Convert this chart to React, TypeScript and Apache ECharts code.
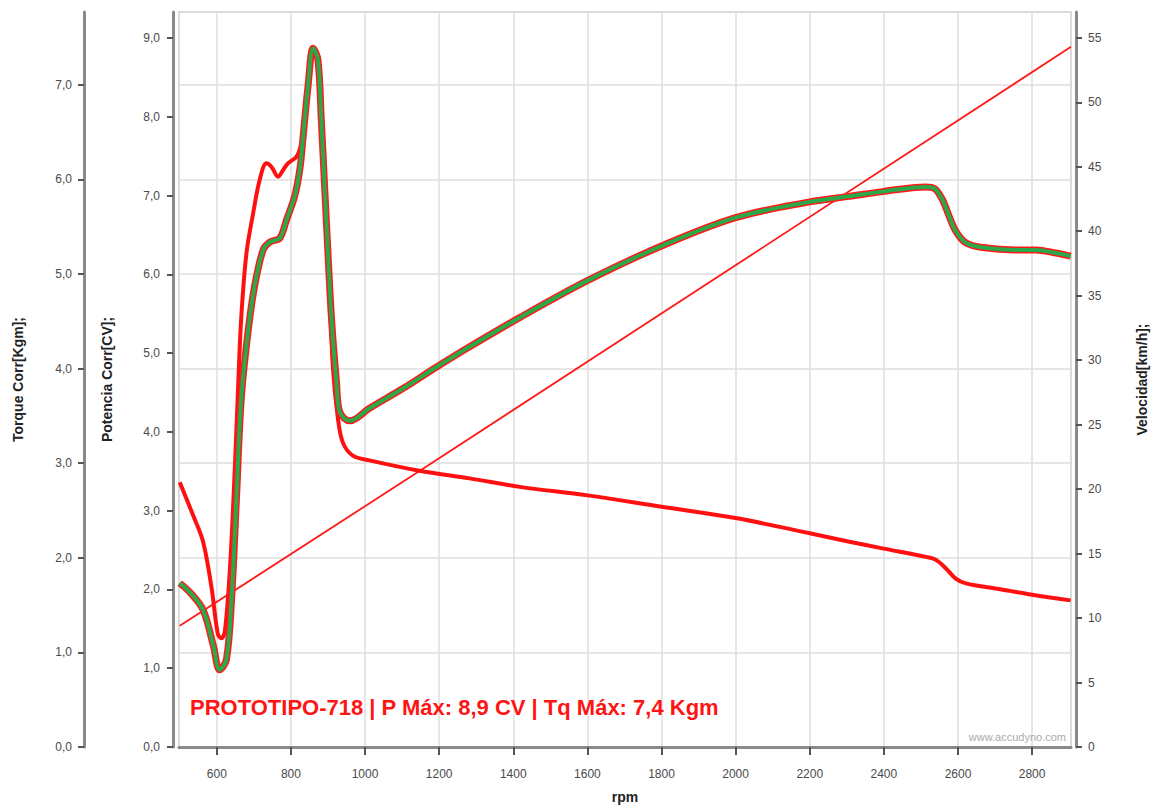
import React, { useEffect, useRef } from "react";
import * as echarts from "echarts";

// ---- data ----
const rpmTicks = [600, 800, 1000, 1200, 1400, 1600, 1800, 2000, 2200, 2400, 2600, 2800];
const torqueTicks = [0, 1, 2, 3, 4, 5, 6, 7];
const potenciaTicks = [0, 1, 2, 3, 4, 5, 6, 7, 8, 9];
const velocidadTicks = [0, 5, 10, 15, 20, 25, 30, 35, 40, 45, 50, 55];

const powerRpm = [500, 530, 563, 590, 608, 626, 640, 653, 666, 684, 702, 725, 743, 770, 788, 810, 824, 833, 846, 860, 873, 882, 891, 900, 910, 923, 932, 959, 1012, 1102, 1192, 1282, 1417, 1600, 1800, 2000, 2200, 2307, 2396, 2513, 2536, 2558, 2576, 2594, 2621, 2666, 2756, 2810, 2864, 2904];
const powerCV = [2.08, 1.95, 1.74, 1.30, 0.98, 1.11, 1.89, 3.15, 4.42, 5.26, 5.85, 6.31, 6.41, 6.46, 6.69, 6.99, 7.33, 7.75, 8.38, 8.87, 8.72, 7.96, 7.11, 6.27, 5.40, 4.63, 4.25, 4.14, 4.30, 4.55, 4.82, 5.08, 5.45, 5.92, 6.36, 6.72, 6.92, 6.99, 7.05, 7.11, 7.09, 6.95, 6.74, 6.55, 6.40, 6.34, 6.31, 6.31, 6.27, 6.23];

const torqueRpm = [500, 536, 563, 586, 603, 613, 622, 636, 649, 658, 666, 680, 698, 716, 734, 748, 765, 779, 792, 815, 824, 833, 846, 860, 873, 882, 891, 900, 906, 913, 926, 940, 967, 1012, 1147, 1282, 1417, 1600, 1800, 2000, 2200, 2307, 2396, 2513, 2540, 2567, 2594, 2621, 2711, 2800, 2904];
const torqueKgm = [2.80, 2.45, 2.17, 1.68, 1.19, 1.15, 1.23, 1.92, 2.98, 3.85, 4.54, 5.22, 5.64, 6.00, 6.17, 6.13, 6.03, 6.10, 6.17, 6.24, 6.32, 6.45, 6.98, 7.38, 7.26, 6.63, 5.92, 5.22, 4.73, 4.03, 3.50, 3.22, 3.08, 3.03, 2.92, 2.84, 2.75, 2.66, 2.54, 2.42, 2.26, 2.17, 2.10, 2.01, 1.98, 1.89, 1.78, 1.73, 1.67, 1.61, 1.55];

const velRpm = [500, 1147, 2905];
const velKmh = [9.4, 21.4, 54.3];

const annotation = "PROTOTIPO-718 | P Máx: 8,9 CV | Tq Máx: 7,4 Kgm";
const watermark = "www.accudyno.com";

const FONT = "'Liberation Sans', Arial, Helvetica, sans-serif";
const comma1 = (v: number) => v.toFixed(1).replace(".", ",");

export default function App() {
  const ref = useRef<HTMLDivElement>(null);
  useEffect(() => {
    if (!ref.current) return;
    const chart = echarts.init(ref.current, undefined, { renderer: "svg" });
    const axisLine = { show: true, lineStyle: { color: "#8a8a8a", width: 3 } };
    const label = { color: "#4a4a4a", fontSize: 12, fontFamily: FONT };
    const nameStyle = { color: "#222", fontSize: 14, fontWeight: "bold" as const, fontFamily: FONT };
    const zip = (xs: number[], ys: number[]) => xs.map((x, i) => [x, ys[i]]);
    const SMOOTH = 0.35;
    chart.setOption({
      animation: false,
      backgroundColor: "#ffffff",
      grid: {
        left: 179,
        right: 1157 - 1072,
        top: 12,
        bottom: 809 - 750,
        show: true,
        borderColor: "#cfcfcf",
        borderWidth: 1.5,
        backgroundColor: "#ffffff",
      },
      xAxis: {
        type: "value",
        min: 498,
        max: 2905,
        minInterval: 200,
        maxInterval: 200,
        offset: 6,
        name: "rpm",
        nameLocation: "middle",
        nameGap: 37,
        nameTextStyle: nameStyle,
        axisLine,
        axisTick: { show: true, customValues: rpmTicks, length: 8, lineStyle: { color: "#555", width: 2 } },
        axisLabel: { ...label, customValues: rpmTicks, margin: 15, formatter: (v: number) => String(v) },
        splitLine: { show: true, lineStyle: { color: "#dedede", width: 1.5 } },
      },
      yAxis: [
        {
          type: "value",
          position: "left",
          offset: 95,
          min: 0,
          max: 7.77,
          interval: 1,
          name: "Torque Corr[Kgm];",
          nameLocation: "middle",
          nameRotate: 90,
          nameGap: 59,
          nameTextStyle: nameStyle,
          axisLine,
          axisTick: { show: true, customValues: torqueTicks, length: 6, lineStyle: { color: "#555", width: 2 } },
          axisLabel: { ...label, customValues: torqueTicks, margin: 12, formatter: comma1 },
          splitLine: { show: true, lineStyle: { color: "#dedede", width: 1.5 } },
        },
        {
          type: "value",
          position: "left",
          offset: 6,
          min: 0,
          max: 9.33,
          interval: 1,
          name: "Potencia Corr[CV];",
          nameLocation: "middle",
          nameRotate: 90,
          nameGap: 59,
          nameTextStyle: nameStyle,
          axisLine,
          axisTick: { show: true, customValues: potenciaTicks, length: 6, lineStyle: { color: "#555", width: 2 } },
          axisLabel: { ...label, customValues: potenciaTicks, margin: 13, formatter: comma1 },
          splitLine: { show: false },
        },
        {
          type: "value",
          position: "right",
          offset: 5,
          min: 0,
          max: 57.0,
          interval: 5,
          name: "Velocidad[km/h];",
          nameLocation: "middle",
          nameRotate: 90,
          nameGap: 59,
          nameTextStyle: nameStyle,
          axisLine,
          axisTick: { show: true, customValues: velocidadTicks, length: 6, lineStyle: { color: "#555", width: 2 } },
          axisLabel: { ...label, customValues: velocidadTicks, margin: 12, formatter: (v: number) => String(v) },
          splitLine: { show: false },
        },
      ],
      series: [
        {
          name: "Velocidad",
          type: "line",
          yAxisIndex: 2,
          data: zip(velRpm, velKmh),
          symbol: "none",
          lineStyle: { color: "#ff1a1a", width: 1.8 },
          z: 2,
        },
        {
          name: "Torque",
          type: "line",
          yAxisIndex: 0,
          data: zip(torqueRpm, torqueKgm),
          symbol: "none",
          smooth: SMOOTH,
          lineStyle: { color: "#ff1010", width: 4 },
          z: 3,
        },
        {
          name: "Potencia borde",
          type: "line",
          yAxisIndex: 1,
          data: zip(powerRpm, powerCV),
          symbol: "none",
          smooth: SMOOTH,
          lineStyle: { color: "#ff1a1a", width: 7 },
          z: 4,
        },
        {
          name: "Potencia",
          type: "line",
          yAxisIndex: 1,
          data: zip(powerRpm, powerCV),
          symbol: "none",
          smooth: SMOOTH,
          lineStyle: { color: "#2aa84a", width: 4 },
          z: 5,
        },
      ],
      graphic: [
        {
          type: "text",
          left: 190,
          top: 696,
          z: 100,
          style: { text: annotation, fill: "#ff1414", fontSize: 22, fontWeight: "bold", fontFamily: FONT },
        },
        {
          type: "text",
          right: 1157 - 1066,
          top: 731,
          z: 100,
          style: { text: watermark, fill: "#ababab", fontSize: 11, fontFamily: FONT },
        },
      ],
    });
    return () => chart.dispose();
  }, []);
  return <div ref={ref} style={{ position: "fixed", left: 0, top: 0, width: 1157, height: 809 }} />;
}
